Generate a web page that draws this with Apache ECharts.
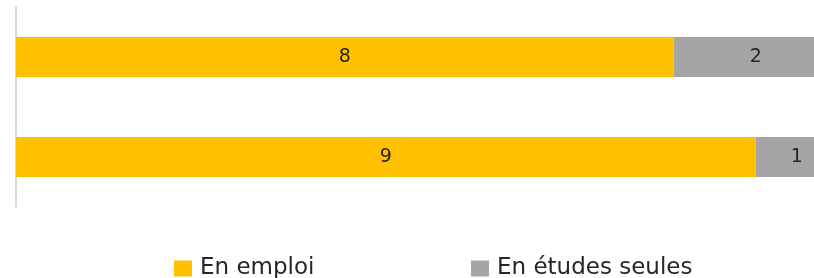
<!DOCTYPE html>
<html>
<head>
<meta charset="utf-8">
<script src="https://cdn.jsdelivr.net/npm/echarts@6/dist/echarts.min.js"></script>
<style>
  html, body { margin: 0; padding: 0; background: #fff; }
  #chart { width: 814px; height: 278px; }
</style>
</head>
<body>
<div id="chart"></div>
<script>
// data
var categories = ['A', 'B'];
var enEmploi = [8, 9];
var enEtudes = [2, 1];
var seriesNames = ['En emploi', 'En études seules'];

var colors = ['#FFC000', '#A5A5A5'];
var font = '"DejaVu Sans", sans-serif';

// text sits a little higher than the square in the original
var legendStyle = {
    top: 257,
    padding: 0,
    itemWidth: 18,
    itemHeight: 16,
    icon: 'rect',
    textStyle: { fontSize: 23, color: '#262626', fontFamily: font, padding: [0, 0, 8, 3] }
};

var myChart = echarts.init(document.getElementById('chart'));
myChart.setOption({
    animation: false,
    color: colors,
    textStyle: { fontFamily: font },
    grid: {
        left: 16,
        right: -24,   // bars run past the right edge in the original
        top: 7,
        bottom: 71,
        outerBoundsMode: 'none',
        containLabel: false
    },
    legend: [
        Object.assign({ left: 174, data: [seriesNames[0]] }, legendStyle),
        Object.assign({ left: 471, data: [seriesNames[1]] }, legendStyle)
    ],
    xAxis: {
        type: 'value',
        min: 0,
        max: 10,
        show: false
    },
    yAxis: {
        type: 'category',
        inverse: true,
        data: categories,
        axisLine: { lineStyle: { color: '#D9D9D9', width: 2 } },
        axisTick: { show: false },
        axisLabel: { show: false }
    },
    series: [
        {
            name: seriesNames[0],
            type: 'bar',
            stack: 'total',
            barCategoryGap: '60%',
            label: { show: true, position: 'inside', fontSize: 19, color: '#262626', fontFamily: font },
            data: enEmploi
        },
        {
            name: seriesNames[1],
            type: 'bar',
            stack: 'total',
            barCategoryGap: '60%',
            label: { show: true, position: 'inside', fontSize: 19, color: '#262626', fontFamily: font },
            data: enEtudes
        }
    ]
});
</script>
</body>
</html>
